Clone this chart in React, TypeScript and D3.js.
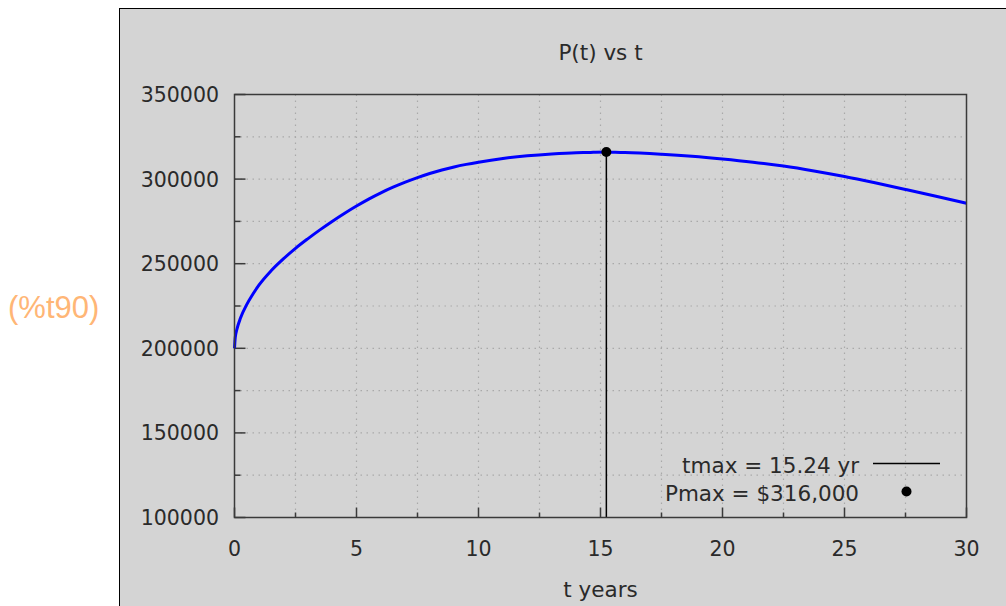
import React from "react";
import * as d3 from "d3";

// P(t) curve
const tValues = [0, 0.03, 0.1, 0.25, 0.5, 0.75, 1, 1.5, 2, 2.5, 3, 3.5, 4, 4.5, 5, 5.5, 6, 6.5, 7, 7.5, 8, 8.5, 9, 9.5, 10, 11, 12, 13, 14, 14.6, 14.8, 15.24, 15.6, 16, 17.5, 18.75, 20, 21.25, 22.5, 23.75, 25, 26.25, 27.5, 28.75, 30];
const pValues = [200000, 206300, 211300, 218000, 225800, 231900, 237300, 245800, 252800, 259100, 264700, 270000, 275000, 279700, 284100, 288200, 291900, 295200, 298200, 300900, 303300, 305400, 307200, 308700, 310000, 312200, 313800, 314900, 315600, 315700, 315900, 316000, 315800, 315700, 314700, 313500, 311900, 310000, 307700, 304800, 301500, 297800, 293900, 289900, 285700];

const tMax = 15.24;
const pMax = 316000;

const xTicks = [0, 5, 10, 15, 20, 25, 30];
const xMinor = [2.5, 7.5, 12.5, 17.5, 22.5, 27.5];
const yTicks = [100000, 150000, 200000, 250000, 300000, 350000];
const yMinor = [125000, 175000, 225000, 275000, 325000];

const legendLabels = ["tmax = 15.24 yr", "Pmax = $316,000"];

const W = 1006;
const H = 606;
const plot = { left: 234.5, right: 966.5, top: 94.5, bottom: 517.5 };
const font = "'DejaVu Sans', Verdana, sans-serif";

export default function App() {
  const x = d3.scaleLinear().domain([0, 30]).range([plot.left, plot.right]);
  const y = d3.scaleLinear().domain([100000, 350000]).range([plot.bottom, plot.top]);

  const pts = tValues.map((t, i) => [t, pValues[i]] as [number, number]);
  const line = d3
    .line<[number, number]>()
    .x((d) => x(d[0]))
    .y((d) => y(d[1]))
    .curve(d3.curveMonotoneX);

  const gridColor = "#a9a9a9";
  const axisColor = "#3a3a3a";
  const textColor = "#2a2a2a";

  return (
    <svg width={W} height={H} style={{ position: "absolute", left: 0, top: 0 }}>
      <rect x={0} y={0} width={W} height={H} fill="#ffffff" />
      {/* maxima output label */}
      <text x={8} y={318} fontFamily="'Liberation Sans', Arial, sans-serif" fontSize={31} fill="#ffb676">
        (%t90)
      </text>
      {/* gnuplot panel */}
      <rect x={119.5} y={8.5} width={W} height={H} fill="#d4d4d4" stroke="#000" strokeWidth={1} />

      <text x={(plot.left + plot.right) / 2} y={60} textAnchor="middle" fontFamily={font} fontSize={21.5} fill={textColor}>
        P(t) vs t
      </text>

      {/* grid */}
      {[...xTicks.slice(1, -1), ...xMinor].map((t) => (
        <line key={"gx" + t} x1={x(t)} x2={x(t)} y1={plot.top} y2={plot.bottom} stroke={gridColor} strokeWidth={1.2} strokeDasharray="1.5,4.5" />
      ))}
      {[...yTicks.slice(1, -1), ...yMinor].map((v) => (
        <line key={"gy" + v} x1={plot.left} x2={plot.right} y1={y(v)} y2={y(v)} stroke={gridColor} strokeWidth={1.2} strokeDasharray="1.5,4.5" />
      ))}

      {/* ticks */}
      {xTicks.map((t) => (
        <line key={"tx" + t} x1={x(t)} x2={x(t)} y1={plot.bottom} y2={plot.bottom - 10} stroke={axisColor} strokeWidth={1.5} />
      ))}
      {xMinor.map((t) => (
        <line key={"mx" + t} x1={x(t)} x2={x(t)} y1={plot.bottom} y2={plot.bottom - 5} stroke={axisColor} strokeWidth={1.5} />
      ))}
      {yTicks.map((v) => (
        <line key={"ty" + v} x1={plot.left} x2={plot.left + 11} y1={y(v)} y2={y(v)} stroke={axisColor} strokeWidth={1.5} />
      ))}
      {yMinor.map((v) => (
        <line key={"my" + v} x1={plot.left} x2={plot.left + 6} y1={y(v)} y2={y(v)} stroke={axisColor} strokeWidth={1.5} />
      ))}

      {/* tick labels */}
      {xTicks.map((t) => (
        <text key={"lx" + t} x={x(t)} y={556} textAnchor="middle" fontFamily={font} fontSize={20.5} fill={textColor}>
          {t}
        </text>
      ))}
      {yTicks.map((v) => (
        <text key={"ly" + v} x={219} y={y(v) + 7.5} textAnchor="end" fontFamily={font} fontSize={20.5} fill={textColor}>
          {v}
        </text>
      ))}

      <text x={(plot.left + plot.right) / 2} y={597} textAnchor="middle" fontFamily={font} fontSize={21.5} fill={textColor}>
        t years
      </text>

      {/* curve */}
      <path d={line(pts) ?? ""} fill="none" stroke="#0000ff" strokeWidth={3} />

      {/* tmax line and Pmax point */}
      <line x1={x(tMax)} x2={x(tMax)} y1={y(100000)} y2={y(pMax)} stroke="#000" strokeWidth={1.5} />
      <circle cx={x(tMax)} cy={y(pMax)} r={5} fill="#000" />

      {/* plot border */}
      <rect x={plot.left} y={plot.top} width={plot.right - plot.left} height={plot.bottom - plot.top} fill="none" stroke={axisColor} strokeWidth={1.5} />

      {/* legend */}
      <text x={859} y={473} textAnchor="end" fontFamily={font} fontSize={21.5} fill={textColor}>
        {legendLabels[0]}
      </text>
      <line x1={873} x2={940} y1={463.5} y2={463.5} stroke="#000" strokeWidth={1.5} />
      <text x={859} y={501} textAnchor="end" fontFamily={font} fontSize={21.5} fill={textColor}>
        {legendLabels[1]}
      </text>
      <circle cx={906.5} cy={491.5} r={5} fill="#000" />
    </svg>
  );
}
